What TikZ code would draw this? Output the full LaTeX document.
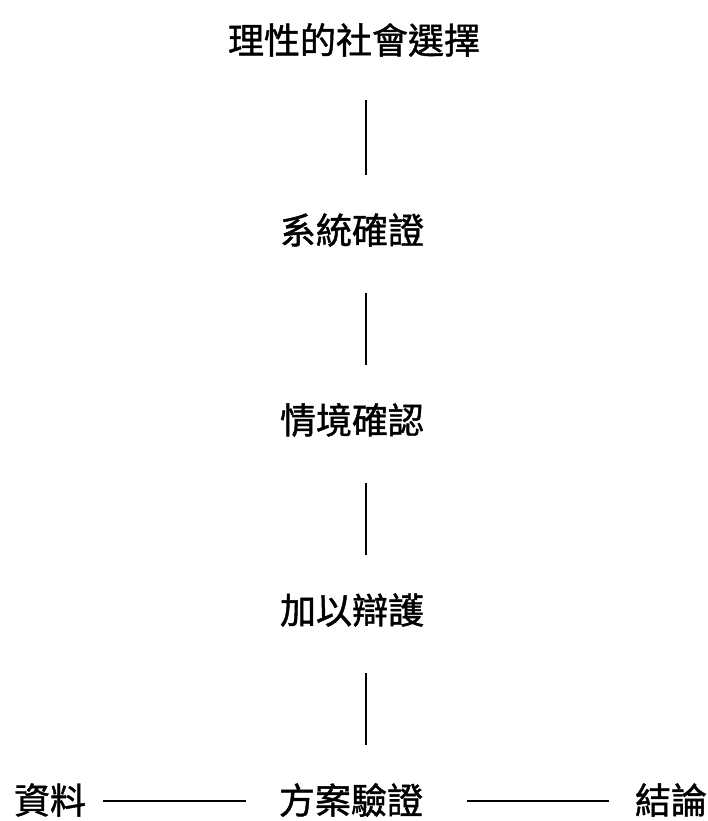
\documentclass[tikz,border=0pt]{standalone}
\usepackage{fontspec}
\newfontfamily\cjk{Noto Sans CJK TC}[FakeBold=1.2]
\begin{document}
\begin{tikzpicture}[x=1pt,y=-1pt,
  lbl/.style={font=\cjk\fontsize{36}{40}\selectfont, inner sep=0pt, anchor=center},
  conn/.style={line width=1.3pt, black}]
\useasboundingbox (0,0) rectangle (707,821);
\node[lbl] (t1) at (354,40) {理性的社會選擇};
\node[lbl] (t2) at (352,230) {系統確證};
\node[lbl] (t3) at (352,420) {情境確認};
\node[lbl] (t4) at (352,610) {加以辯護};
\node[lbl] (t5) at (351,800) {方案驗證};
\node[lbl] (l) at (50,800) {資料};
\node[lbl] (r) at (671,800) {結論};
\coordinate (a1) at (366,100); \coordinate (a2) at (366,175);
\coordinate (b1) at (366,293); \coordinate (b2) at (366,365);
\coordinate (c1) at (366,483); \coordinate (c2) at (366,555);
\coordinate (d1) at (366,673); \coordinate (d2) at (366,745);
\coordinate (h1) at (103,801); \coordinate (h2) at (246,801);
\coordinate (h3) at (467,801); \coordinate (h4) at (609,801);
\draw[conn] (a1) -- (a2);
\draw[conn] (b1) -- (b2);
\draw[conn] (c1) -- (c2);
\draw[conn] (d1) -- (d2);
\draw[conn] (h1) -- (h2);
\draw[conn] (h3) -- (h4);
\end{tikzpicture}
\end{document}
